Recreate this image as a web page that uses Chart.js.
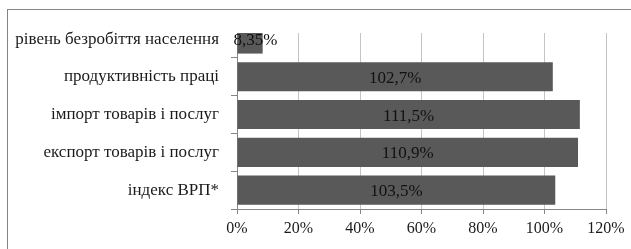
<!DOCTYPE html>
<html>
<head>
<meta charset="utf-8">
<script src="https://cdn.jsdelivr.net/npm/chart.js@4/dist/chart.umd.min.js"></script>
<style>
  html, body { margin: 0; padding: 0; background: #fff; overflow: hidden; }
  #wrap { position: relative; width: 631px; height: 249px; }
  #frame { position: absolute; left: 7px; top: 9px; width: 700px; height: 300px;
           border-left: 1px solid #858585; border-top: 1px solid #858585; }
  canvas { position: absolute; left: 0; top: 0; }
</style>
</head>
<body>
<div id="wrap">
  <div id="frame"></div>
  <canvas id="chart" width="631" height="249"></canvas>
</div>
<script>
// categories top to bottom, as in the picture
var categories = [
  "рівень безробіття населення",
  "продуктивність праці",
  "імпорт товарів і послуг",
  "експорт товарів і послуг",
  "індекс ВРП*"
];
var values = [8.35, 102.7, 111.5, 110.9, 103.5];
var valueLabels = ["8,35%", "102,7%", "111,5%", "110,9%", "103,5%"];
var xTicks = [0, 20, 40, 60, 80, 100, 120];

var FONT = "'Liberation Serif', 'Times New Roman', serif";

// labels drawn at the middle of each bar
var barLabels = {
  id: "barLabels",
  afterDatasetsDraw: function(chart) {
    var ctx = chart.ctx;
    var meta = chart.getDatasetMeta(0);
    ctx.save();
    ctx.font = "17px " + FONT;
    ctx.fillStyle = "#111";
    ctx.textAlign = "center";
    ctx.textBaseline = "alphabetic";
    meta.data.forEach(function(bar, i) {
      var w = ctx.measureText(valueLabels[i]).width;
      var x = Math.max((bar.x + bar.base) / 2, bar.base + w / 2 - 4);
      ctx.fillText(valueLabels[i], x, bar.y + 6);
    });
    ctx.restore();
  }
};

new Chart(document.getElementById("chart"), {
  type: "bar",
  data: {
    datasets: [{
      data: values.map(function(v, i) { return { x: v, y: i }; }),
      backgroundColor: "#595959",
      borderWidth: 0,
      categoryPercentage: 1,
      barPercentage: 0.77,
      clip: 0
    }]
  },
  options: {
    indexAxis: "y",
    responsive: false,
    animation: false,
    layout: { padding: { top: 33, right: 25, left: 0, bottom: 0 } },
    plugins: { legend: { display: false }, tooltip: { enabled: false } },
    scales: {
      x: {
        type: "linear",
        min: 0,
        max: 120,
        afterBuildTicks: function(s) { s.ticks = xTicks.map(function(v) { return { value: v }; }); },
        afterFit: function(s) { s.height = 40; s.paddingLeft = 0; s.paddingRight = 0; },
        ticks: {
          callback: function(v) { return v + "%"; },
          font: { family: FONT, size: 16 },
          color: "#1a1a1a",
          padding: 5,
          maxRotation: 0
        },
        grid: { color: "#c4c4c4", tickColor: "#868686", tickLength: 5 },
        border: { color: "#868686" }
      },
      y: {
        type: "linear",
        reverse: true,
        offset: false,
        min: -0.16,   // top category is partly cut off, as in the picture
        max: 4.5,
        afterBuildTicks: function(s) { s.ticks = categories.map(function(c, i) { return { value: i }; }); },
        afterFit: function(s) { s.width = 237; s.paddingTop = 0; s.paddingBottom = 0; },
        ticks: {
          callback: function(v) { return categories[v]; },
          font: { family: FONT, size: 17 },
          color: "#1a1a1a",
          padding: 12
        },
        grid: { offset: true, drawOnChartArea: false, color: "#868686", tickLength: 6 },
        border: { color: "#868686" }
      }
    }
  },
  plugins: [barLabels]
});
</script>
</body>
</html>
